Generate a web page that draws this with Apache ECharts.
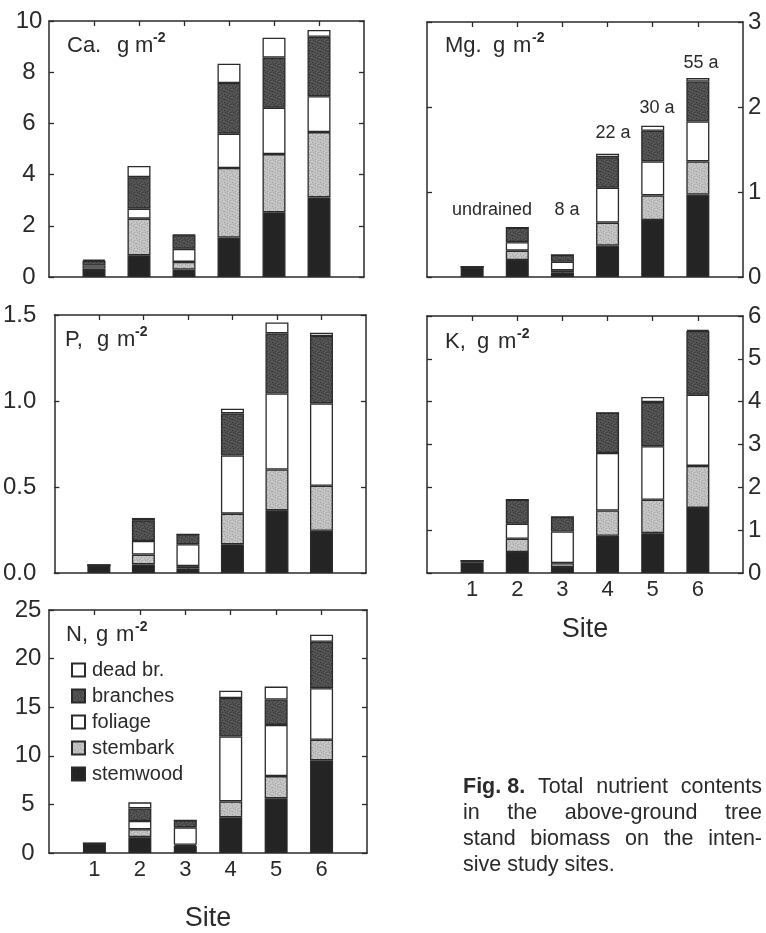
<!DOCTYPE html>
<html>
<head>
<meta charset="utf-8">
<script src="https://cdn.jsdelivr.net/npm/echarts@6/dist/echarts.min.js"></script>
<style>
  html, body { margin: 0; padding: 0; background: #ffffff; }
  #chart { width: 766px; height: 933px; }
</style>
</head>
<body>
<div id="chart"></div>
<script>
// Sites on the x axis and the biomass components, bottom of each stack first
const sites = ['1', '2', '3', '4', '5', '6'];
const components = ['stemwood', 'stembark', 'foliage', 'branches', 'dead br.'];
const legendOrder = ['dead br.', 'branches', 'foliage', 'stembark', 'stemwood'];

// Ca, g m-2
const caStemwood = [0.27, 0.85, 0.29, 1.54, 2.53, 3.11];
const caStembark = [0.06, 1.43, 0.30, 2.72, 2.27, 2.55];
const caFoliage  = [0.12, 0.39, 0.51, 1.34, 1.81, 1.40];
const caBranches = [0.18, 1.23, 0.53, 1.98, 1.96, 2.32];
const caDeadBr   = [0.05, 0.44, 0.02, 0.75, 0.78, 0.27];

// Mg, g m-2
const mgStemwood = [0.11, 0.20, 0.05, 0.37, 0.67, 0.97];
const mgStembark = [0.01, 0.11, 0.03, 0.27, 0.29, 0.39];
const mgFoliage  = [0.00, 0.10, 0.10, 0.41, 0.40, 0.47];
const mgBranches = [0.00, 0.17, 0.08, 0.36, 0.36, 0.47];
const mgDeadBr   = [0.00, 0.00, 0.00, 0.04, 0.06, 0.04];

// P, g m-2
const pStemwood = [0.042, 0.050, 0.025, 0.167, 0.365, 0.245];
const pStembark = [0.003, 0.057, 0.015, 0.178, 0.237, 0.262];
const pFoliage  = [0.000, 0.079, 0.127, 0.338, 0.442, 0.479];
const pBranches = [0.000, 0.120, 0.058, 0.245, 0.349, 0.392];
const pDeadBr   = [0.000, 0.014, 0.000, 0.027, 0.064, 0.019];

// K, g m-2
const kStemwood = [0.25, 0.49, 0.14, 0.87, 0.93, 1.52];
const kStembark = [0.03, 0.31, 0.09, 0.59, 0.78, 0.98];
const kFoliage  = [0.00, 0.35, 0.74, 1.34, 1.25, 1.66];
const kBranches = [0.00, 0.56, 0.34, 0.94, 1.03, 1.49];
const kDeadBr   = [0.00, 0.00, 0.00, 0.00, 0.12, 0.03];

// N, g m-2
const nStemwood = [0.95, 1.63, 0.72, 3.68, 5.63, 9.54];
const nStembark = [0.03, 0.81, 0.13, 1.63, 2.28, 2.11];
const nFoliage  = [0.00, 0.85, 1.79, 6.67, 5.27, 5.31];
const nBranches = [0.00, 1.30, 0.71, 3.97, 2.61, 4.78];
const nDeadBr   = [0.00, 0.62, 0.00, 0.75, 1.33, 0.72];

// Stand ages written above the Mg bars
const ageLabels = ['undrained', '8 a', '22 a', '30 a', '55 a'];

const FONT = '"Liberation Sans", Arial, Helvetica, sans-serif';
const INK = '#2a2a2a';

// Stippled fills: a small repeating tile with a fixed, irregular dot layout
function stipple(base, dark, light) {
  const tile = [
    '01002010',
    '20010002',
    '00200100',
    '10002001',
    '02100020',
    '00020100',
    '10200002',
    '00010200'
  ];
  const c = document.createElement('canvas');
  c.width = 8; c.height = 8;
  const g = c.getContext('2d');
  tile.forEach((row, y) => {
    for (let x = 0; x < 8; x++) {
      g.fillStyle = row[x] === '1' ? dark : row[x] === '2' ? light : base;
      g.fillRect(x, y, 1, 1);
    }
  });
  return { image: c, repeat: 'repeat' };
}

const fills = {
  'stemwood': '#242424',
  'stembark': stipple('#bfbfbf', '#a4a4a4', '#d3d3d3'),
  'foliage': '#ffffff',
  'branches': stipple('#4e4e4e', '#3a3a3a', '#636363'),
  'dead br.': '#ffffff'
};

// x slots: an empty slot on each side of sites 1..6 so the bars sit at 1/7 ... 6/7 of the width
const slots = [''].concat(sites, ['']);
const isSite = (i) => i >= 1 && i <= sites.length;

const panels = [
  { key: 'Ca.', values: [caStemwood, caStembark, caFoliage, caBranches, caDeadBr],
    max: 10, step: 2, grid: { left: 49, top: 21, width: 315, height: 256 },
    labelSide: 'left', labelAlign: 'center', labelMargin: 20, siteLabels: false, nameGap: 0, fmt: v => String(v),
    title: { x: 67, y: 54, g: 50, m: 68, sup: 86 } },
  { key: 'Mg.', values: [mgStemwood, mgStembark, mgFoliage, mgBranches, mgDeadBr],
    max: 3, step: 1, grid: { left: 427, top: 22, width: 316, height: 255 },
    labelSide: 'right', labelAlign: 'left', labelMargin: 5, siteLabels: false, nameGap: 0, fmt: v => String(v),
    title: { x: 445, y: 54, g: 48, m: 68, sup: 87 } },
  { key: 'P,', values: [pStemwood, pStembark, pFoliage, pBranches, pDeadBr],
    max: 1.5, step: 0.5, grid: { left: 49, top: 315, width: 317, height: 258 },
    labelSide: 'left', labelAlign: 'right', labelMargin: 18, siteLabels: false, nameGap: 0, fmt: v => v.toFixed(1),
    title: { x: 65, y: 348, g: 32, m: 52, sup: 70 } },
  { key: 'K,', values: [kStemwood, kStembark, kFoliage, kBranches, kDeadBr],
    max: 6, step: 1, grid: { left: 427, top: 316, width: 316, height: 257 },
    labelSide: 'right', labelAlign: 'left', labelMargin: 5, siteLabels: true, nameGap: 43, fmt: v => String(v),
    title: { x: 445, y: 350, g: 32, m: 53, sup: 72 } },
  { key: 'N,', values: [nStemwood, nStembark, nFoliage, nBranches, nDeadBr],
    max: 25, step: 5, grid: { left: 49, top: 610, width: 318, height: 256 },
    labelSide: 'left', labelAlign: 'center', labelMargin: 21, siteLabels: true, nameGap: 52, fmt: v => String(v),
    title: { x: 66, y: 643, g: 30, m: 50, sup: 69 } }
];

const axisLine = { show: true, onZero: false, lineStyle: { color: INK, width: 1.5 } };
const yTick = { show: true, inside: true, length: 5, lineStyle: { color: INK, width: 1.3 } };
const xTick = { show: true, inside: true, length: 5, alignWithLabel: true,
                interval: (i) => isSite(i), lineStyle: { color: INK, width: 1.3 } };

const grid = [], xAxis = [], yAxis = [], series = [], graphic = [];

panels.forEach((p, g) => {
  grid.push(Object.assign({ containLabel: false }, p.grid));
  ['bottom', 'top'].forEach(pos => {
    xAxis.push({
      gridIndex: g, type: 'category', data: slots, boundaryGap: false, position: pos,
      axisLine: axisLine, axisTick: xTick,
      axisLabel: {
        show: pos === 'bottom' && p.siteLabels, interval: (i) => isSite(i),
        fontFamily: FONT, fontSize: 22, color: INK, margin: 6
      },
      splitLine: { show: false },
      name: pos === 'bottom' && p.siteLabels ? 'Site' : '',
      nameLocation: 'middle', nameGap: p.nameGap,
      nameTextStyle: { fontFamily: FONT, fontSize: 27, color: INK }
    });
  });
  ['left', 'right'].forEach(pos => {
    yAxis.push({
      gridIndex: g, type: 'value', min: 0, max: p.max, interval: p.step, position: pos,
      axisLine: axisLine, axisTick: yTick,
      axisLabel: {
        show: pos === p.labelSide, formatter: p.fmt, align: p.labelAlign,
        margin: p.labelMargin, fontFamily: FONT, fontSize: 24, color: INK
      },
      splitLine: { show: false }
    });
  });
  components.forEach((c, i) => {
    series.push({
      type: 'bar', name: c, stack: p.key,
      xAxisIndex: 2 * g, yAxisIndex: 2 * g,
      barWidth: 23,
      itemStyle: { color: fills[c], borderColor: INK, borderWidth: 1.3 },
      emphasis: { disabled: true },
      animation: false,
      data: ['-'].concat(p.values[i], ['-'])
    });
  });
  // panel title: element, g m^-2
  const t = p.title;
  const base = { fontFamily: FONT, fontSize: 22, fill: INK, verticalAlign: 'middle' };
  [[p.key, 0], ['g', t.g], ['m', t.m]].forEach(([txt, dx]) => {
    graphic.push({ type: 'text', x: t.x + dx, y: t.y - 8, style: Object.assign({ text: txt, align: 'left' }, base) });
  });
  graphic.push({ type: 'text', x: t.x + t.sup, y: t.y - 16,
    style: { text: '-2', fontFamily: FONT, fontSize: 14, fontWeight: 'bold', fill: INK, align: 'left', verticalAlign: 'middle' } });
});

// stand ages above the Mg bars
const agePos = [[492, 210], [567, 210], [613, 133], [657, 108], [701, 63]];
ageLabels.forEach((txt, i) => {
  graphic.push({ type: 'text', x: agePos[i][0], y: agePos[i][1],
    style: { text: txt, fontFamily: FONT, fontSize: 18, fill: INK, align: 'center', verticalAlign: 'middle' } });
});

// figure caption, justified between two margins
const capLeft = 463, capRight = 762, capFont = 21.5;
const capLines = [
  { words: [['Fig. 8.', true], ['Total'], ['nutrient'], ['contents']], justify: true },
  { words: [['in'], ['the'], ['above-ground'], ['tree']], justify: true },
  { words: [['stand'], ['biomass'], ['on'], ['the'], ['inten-']], justify: true },
  { words: [['sive'], ['study'], ['sites.']], justify: false }
];
const ctx = document.createElement('canvas').getContext('2d');
const measure = (txt, bold) => {
  ctx.font = (bold ? 'bold ' : '') + capFont + 'px ' + FONT;
  return ctx.measureText(txt).width;
};
capLines.forEach((line, li) => {
  const widths = line.words.map(([w, b]) => measure(w, b));
  const total = widths.reduce((a, b) => a + b, 0);
  const gap = line.justify ? (capRight - capLeft - total) / (line.words.length - 1) : measure(' ', false);
  let x = capLeft;
  line.words.forEach(([w, b], k) => {
    graphic.push({ type: 'text', x: x, y: 787 + li * 26,
      style: { text: w, fontFamily: FONT, fontSize: capFont, fontWeight: b ? 'bold' : 'normal',
               fill: INK, align: 'left', verticalAlign: 'middle' } });
    x += widths[k] + gap;
  });
});

const chart = echarts.init(document.getElementById('chart'), null, { renderer: 'canvas' });
chart.setOption({
  backgroundColor: '#ffffff',
  animation: false,
  grid: grid,
  xAxis: xAxis,
  yAxis: yAxis,
  legend: {
    data: legendOrder.map(n => ({ name: n, icon: 'rect' })), orient: 'vertical', left: 66, top: 655,
    itemWidth: 13, itemHeight: 13, itemGap: 6, selectedMode: false,
    textStyle: { fontFamily: FONT, fontSize: 20, color: INK, lineHeight: 20, padding: [0, 0, 0, 2] }
  },
  series: series,
  graphic: graphic
});
</script>
</body>
</html>
